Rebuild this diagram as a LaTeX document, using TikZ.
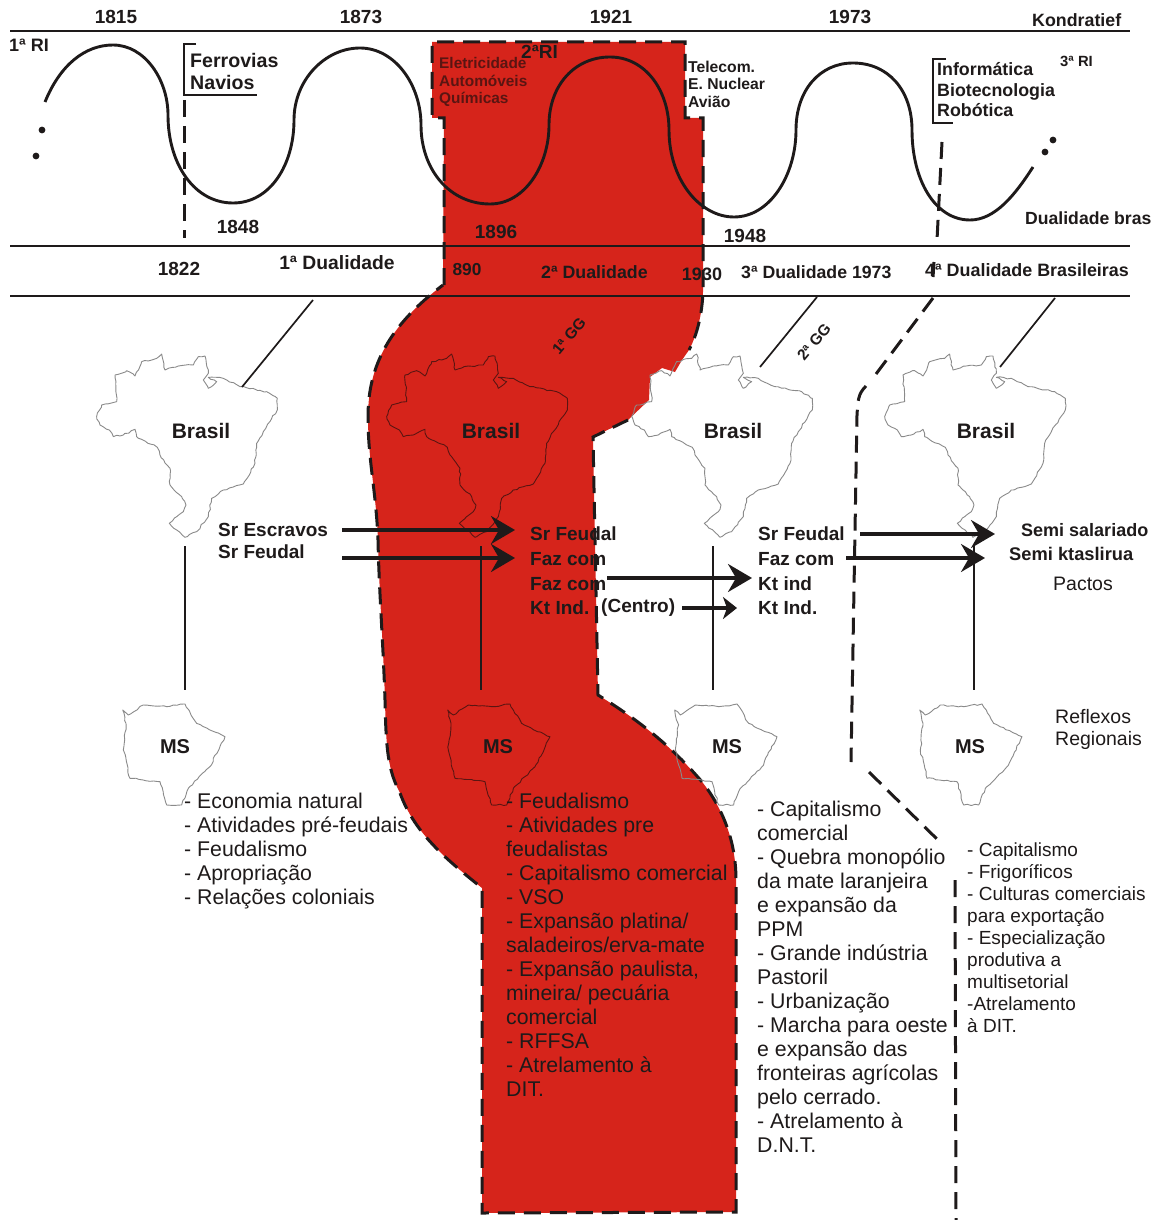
\documentclass[tikz,border=0pt]{standalone}
\usepackage{fontspec}
\setmainfont{Liberation Sans}
\usetikzlibrary{arrows.meta,decorations.pathmorphing}
\definecolor{ink}{HTML}{1E1A1A}
\definecolor{redzone}{HTML}{D6241B}
\definecolor{mapgray}{HTML}{8A8A8A}
\definecolor{mapdark}{HTML}{5A1512}
\pgfmathsetseed{7}
\tikzset{
  x=1pt,y=-1pt,
  rule/.style={ink,line width=2.8pt},
  dashb/.style={ink,line width=3pt,dash pattern=on 17pt off 9pt},
  wave/.style={ink,line width=2.9pt},
  thin line/.style={ink,line width=1.7pt},
  vline/.style={ink,line width=2.5pt},
  boldtext/.style={font=\bfseries\fontsize{#1}{#1}\selectfont,text=ink,inner sep=0pt},
  boldblock/.style 2 args={font=\bfseries\fontsize{#1}{#2}\selectfont,text=ink,inner sep=0pt,align=left,anchor=west},
  plain label/.style={font=\fontsize{19.5}{22}\selectfont,text=ink,inner sep=0pt,align=left,anchor=west},
  body/.style={font=\fontsize{21.3}{24}\selectfont,text=ink,inner sep=0pt,align=left,anchor=north west},
  body small/.style={font=\fontsize{19}{21.9}\selectfont,text=ink,inner sep=0pt,align=left,anchor=north west},
  big arrow/.style={ink,line width=3.2pt,-{Stealth[length=24pt,width=28pt,inset=8pt]}},
  small arrow/.style={ink,line width=3.2pt,-{Stealth[length=14pt,width=22pt,inset=4pt]}},
  mapline/.style={#1,line width=0.9pt,line join=round,decorate,decoration={random steps,segment length=3.5pt,amplitude=0.8pt}},
}
\newcommand{\brazil}[3]{% shift x, shift y, colour
 \begin{scope}[shift={(#1,#2)},x=0.3333pt,y=-0.3333pt]
 \draw[mapline=#3] (315,592)--(268,550)--(290,530)--(310,515)--(318,495)--(305,470)--(270,435)--(270,385)--(240,345)--(232,322)--(170,290)--(165,268)--(130,285)--(100,290)--(88,270)--(60,255)--(50,230)--(65,195)--(110,185)--(105,105)--(140,92)--(165,108)--(185,65)--(230,55)--(245,42)--(255,90)--(295,78)--(340,75)--(355,50)--(375,48)--(385,100)--(370,120)--(385,145)--(410,125)--(385,112)--(430,115)--(480,140)--(560,155)--(592,175)--(592,210)--(550,275)--(530,310)--(525,370)--(490,432)--(430,450)--(395,475)--(385,530)--(350,575)--cycle;
 \end{scope}}
\newcommand{\msmap}[3]{%
 \begin{scope}[shift={(#1,#2)},x=0.3333pt,y=-0.3333pt]
 \draw[mapline=#3] (68,90)--(85,105)--(130,75)--(200,80)--(255,72)--(290,130)--(375,170)--(330,260)--(265,325)--(245,375)--(200,375)--(180,305)--(90,295)--(70,210)--(78,130)--cycle;
 \end{scope}}
\begin{document}
\begin{tikzpicture}[x=1pt,y=-1pt]
\useasboundingbox (0,0) rectangle (1157,1220);
% red zone
\fill[redzone] (432,42)--(685,42)--(685,118)--(703,118)--(703,292)
  .. controls (702,315) and (697,335) .. (689,350)
  --(682,360)--(675,372)--(662,368)--(650,377)--(649,400)--(628,420)--(593,437)
  --(598,695) .. controls (625,712) and (665,738) .. (703,783)
  .. controls (722,808) and (736,840) .. (736,880)
  --(736,1212)--(482,1213)--(482,888)
  .. controls (450,862) and (415,835) .. (400,793)
  .. controls (388,770) and (386,750) .. (385,700)
  .. controls (383,640) and (379,590) .. (378,540)
  .. controls (376,490) and (368,460) .. (368,417)
  .. controls (368,365) and (390,325) .. (443,285)
  --(444,118)--(432,118)--cycle;
\draw[dashb] (444,285)--(444,118)--(432,118)--(432,42)--(685,42)--(685,118)--(703,118)--(703,292)
  .. controls (702,315) and (697,335) .. (689,350);
\draw[dashb] (628,420)--(593,437)--(598,695) .. controls (625,712) and (665,738) .. (703,783)
  .. controls (722,808) and (736,840) .. (736,880)--(736,1212)--(482,1213)--(482,888)
  .. controls (450,862) and (415,835) .. (400,793)
  .. controls (388,770) and (386,750) .. (385,700)
  .. controls (383,640) and (379,590) .. (378,540)
  .. controls (376,490) and (368,460) .. (368,417)
  .. controls (368,365) and (390,325) .. (443,285);
% rules
\coordinate (r1a) at (10,31); \coordinate (r1b) at (1130,31);
\coordinate (r2a) at (10,246); \coordinate (r2b) at (1130,246);
\coordinate (r3a) at (10,296); \coordinate (r3b) at (1130,296);
\draw[rule] (r1a)--(r1b); \draw[rule] (r2a)--(r2b); \draw[rule] (r3a)--(r3b);
% wave
\draw[wave] (45,102) .. controls (60,65) and (85,45) .. (113,45)
 .. controls (145,45) and (168,80) .. (168,115)
 .. controls (168,165) and (195,203) .. (233,203)
 .. controls (270,203) and (294,165) .. (294,120)
 .. controls (294,80) and (325,48) .. (360,48)
 .. controls (395,48) and (421,85) .. (421,125)
 .. controls (421,170) and (450,204) .. (490,204)
 .. controls (525,204) and (549,165) .. (549,125)
 .. controls (549,85) and (575,57) .. (610,57)
 .. controls (645,57) and (669,90) .. (669,130)
 .. controls (669,180) and (700,217) .. (734,217)
 .. controls (770,217) and (796,175) .. (796,130)
 .. controls (796,90) and (820,63) .. (853,63)
 .. controls (888,63) and (912,90) .. (912,130)
 .. controls (912,180) and (935,220) .. (970,220)
 .. controls (995,220) and (1015,195) .. (1033,167);
\foreach \p/\q in {42/130,36/156,1053/140,1045/152}{\fill[ink] (\p,\q) circle (3.4pt);}
% dashed dividers
\draw[dashb] (184,100)--(184,238);
\draw[dashb] (942,142)--(937,240);
\draw[ink,line width=3pt] (934,262)--(933,277);
\draw[dashb] (933,298)--(873,378);
\draw[dashb] (866,386) .. controls (858,394) and (858,400) .. (857,415)--(851,762);
\draw[dashb] (869,772)--(942,844);
\draw[dashb] (955,880)--(956,1220);
% brackets
\draw[ink,line width=2.4pt] (196,44)--(184,44)--(184,95)--(257,95);
\draw[ink,line width=2.4pt] (946,59)--(933,59)--(933,123)--(953,123);
% maps
\brazil{80}{340}{mapgray}
\brazil{370}{340}{mapdark}
\brazil{615}{340}{mapgray}
\brazil{868}{340}{mapgray}
\msmap{100}{680}{mapgray}
\msmap{425}{680}{mapdark}
\msmap{652}{680}{mapgray}
\msmap{897}{680}{mapgray}
% slanted leaders
\coordinate (s1a) at (313,300); \coordinate (s1b) at (242,387);
\coordinate (s2a) at (817,297); \coordinate (s2b) at (760,367);
\coordinate (s3a) at (1055,298); \coordinate (s3b) at (1000,367);
\draw[thin line] (s1a)--(s1b); \draw[thin line] (s2a)--(s2b); \draw[thin line] (s3a)--(s3b);
% top labels
\node[boldtext=19] (y1815) at (116,17) {1815};
\node[boldtext=19] (y1873) at (361,17) {1873};
\node[boldtext=19] (y1921) at (611,17) {1921};
\node[boldtext=19] (y1973) at (850,17) {1973};
\node[boldtext=17.8,anchor=west] (kond) at (1032,20) {Kondratief};
\node[boldtext=18,anchor=west] (ri1) at (9,45) {1ª RI};
\node[boldtext=19,anchor=west] (ri2) at (521,52) {2ªRI};
\node[boldtext=14.8,anchor=west] (ri3) at (1060,61) {3ª RI};
\node[boldblock={19.6}{22}] (ferro) at (190,71) {Ferrovias\\Navios};
\node[boldblock={15.4}{17.5},text=mapdark] (eletr) at (439,82) {Eletricidade\\Automóveis\\Químicas};
\node[boldblock={15.7}{17.5}] (telec) at (688,84) {Telecom.\\E. Nuclear\\Avião};
\node[boldblock={17.8}{20.5}] (info) at (937,90) {Informática\\Biotecnologia\\Robótica};
\node[boldtext=17.6,anchor=west] (dbras) at (1025,218) {Dualidade bras};
\node[boldtext=19] (y1848) at (238,227) {1848};
\node[boldtext=19] (y1896) at (496,232) {1896};
\node[boldtext=19] (y1948) at (745,236) {1948};
\node[boldtext=19] (y1822) at (179,269) {1822};
\node[boldtext=19.3] (d1) at (337,263) {1ª Dualidade};
\node[boldtext=17.3] (y890) at (467,270) {890};
\node[boldtext=17.8,anchor=west] (d2) at (541,272) {2ª Dualidade};
\node[boldtext=18] (y1930) at (702,274) {1930};
\node[boldtext=17.7,anchor=west] (d3) at (741,272) {3ª Dualidade 1973};
\node[boldtext=17.9,anchor=west] (d4) at (925,270) {4ª Dualidade Brasileiras};
\node[boldtext=15.5,rotate=50] (gg1) at (569,336) {1ª GG};
\node[boldtext=15.5,rotate=50] (gg2) at (814,342) {2ª GG};
% map labels
\foreach \n/\x in {b1/201,b2/491,b3/733,b4/986}{\node[boldtext=21] (\n) at (\x,431) {Brasil};}
\foreach \n/\x in {m1/175,m2/498,m3/727,m4/970}{\node[boldtext=20] (\n) at (\x,747) {MS};}
% map-to-MS links
\foreach \x/\n in {185/a,481/b,713/c,974/d}{
  \coordinate (v\n t) at (\x,546); \coordinate (v\n b) at (\x,690);
  \draw[vline] (v\n t)--(v\n b);
}
% middle labels
\node[boldblock={19}{22}] (sr1) at (218,541) {Sr Escravos\\Sr Feudal};
\node[boldblock={19}{24.7}] (sr2) at (530,571) {Sr Feudal\\Faz com\\Faz com\\Kt Ind.};
\node[boldtext=19,anchor=west] (centro) at (601,608) {(Centro)};
\node[boldblock={19}{24.7}] (sr3) at (758,571) {Sr Feudal\\Faz com\\Kt ind\\Kt Ind.};
\node[boldtext=18,anchor=west] (semi1) at (1021,530) {Semi salariado};
\node[boldtext=18.3,anchor=west] (semi2) at (1009,554) {Semi ktaslirua};
\node[plain label] (pactos) at (1053,584) {Pactos};
\node[plain label] (reflex) at (1055,729) {Reflexos\\Regionais};
% arrows
\coordinate (a1s) at (342,530); \coordinate (a1e) at (515,530);
\coordinate (a2s) at (342,558); \coordinate (a2e) at (515,558);
\coordinate (a3s) at (607,578); \coordinate (a3e) at (752,578);
\coordinate (a4s) at (682,608); \coordinate (a4e) at (737,608);
\coordinate (a5s) at (860,534); \coordinate (a5e) at (995,534);
\coordinate (a6s) at (846,558); \coordinate (a6e) at (985,558);
\draw[big arrow] (a1s)--(a1e);
\draw[big arrow] (a2s)--(a2e);
\draw[big arrow] (a3s)--(a3e);
\draw[small arrow] (a4s)--(a4e);
\draw[big arrow] (a5s)--(a5e);
\draw[big arrow] (a6s)--(a6e);
% text blocks
\node[body] (txt1) at (184,793) {- Economia natural\\- Atividades pré-feudais\\- Feudalismo\\- Apropriação\\- Relações coloniais};
\node[body] (txt2) at (506,793) {- Feudalismo\\- Atividades pre\\feudalistas\\- Capitalismo comercial\\- VSO\\- Expansão platina/\\saladeiros/erva-mate\\- Expansão paulista,\\mineira/ pecuária\\comercial\\- RFFSA\\- Atrelamento à\\DIT.};
\node[body] (txt3) at (757,801) {- Capitalismo\\comercial\\- Quebra monopólio\\da mate laranjeira\\e expansão da\\PPM\\- Grande indústria\\Pastoril\\- Urbanização\\- Marcha para oeste\\e expansão das\\fronteiras agrícolas\\pelo cerrado.\\- Atrelamento à\\D.N.T.};
\node[body small] (txt4) at (967,843) {- Capitalismo\\- Frigoríficos\\- Culturas comerciais\\para exportação\\- Especialização\\produtiva a\\multisetorial\\-Atrelamento\\à DIT.};
\end{tikzpicture}
\end{document}
